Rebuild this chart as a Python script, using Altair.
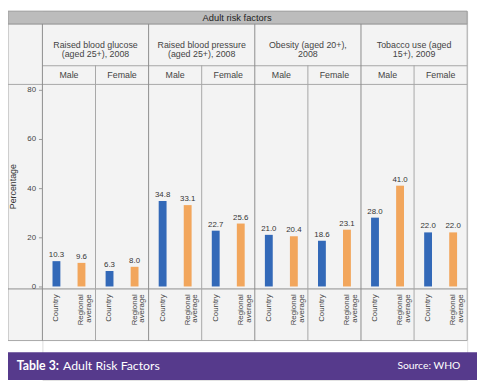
import altair as alt
import pandas as pd

# ---- data ----
groups = [
    "Raised blood glucose\n(aged 25+), 2008",
    "Raised blood pressure\n(aged 25+), 2008",
    "Obesity (aged 20+),\n2008",
    "Tobacco use (aged\n15+), 2009",
]
sexes = ["Male", "Female"]
categories = ["Country", "Regional\naverage"]
# order: group -> sex -> (Country, Regional average)
values = [10.3, 9.6, 6.3, 8.0,
          34.8, 33.1, 22.7, 25.6,
          21.0, 20.4, 18.6, 23.1,
          28.0, 41.0, 22.0, 22.0]
y_ticks = [0, 20, 40, 60, 80]
bar_colors = ["#3369b8", "#f2a65c"]

rows = []
panels = []
i = 0
for gi, g in enumerate(groups):
    for s in sexes:
        p = f"{gi}|{s}"
        panels.append(p)
        for c in categories:
            rows.append({"group": g, "sex": s, "panel": p, "category": c,
                         "value": values[i], "label": f"{values[i]:.1f}"})
            i += 1
df = pd.DataFrame(rows)
one = pd.DataFrame({"k": [0]})

FONT = "Liberation Sans"
LINE = "#a6a6a6"

xs = alt.Scale(domain=panels, paddingInner=0, paddingOuter=0)
xo = alt.Scale(domain=categories, paddingInner=0, paddingOuter=0.06)
ys = alt.Scale(domain=[-38, 112], nice=False, zero=False)

base = alt.Chart(df)

# table background and frame
bg = alt.Chart(one).mark_rect(fill="#f3f3f3", stroke=LINE, strokeWidth=1).encode(
    x=alt.value(-35), x2=alt.value(432), y=alt.value(13), y2=alt.value(335))
titlebar = alt.Chart(one).mark_rect(fill="#bcbcbc", stroke="#9a9a9a").encode(
    x=alt.value(-35), x2=alt.value(432), y=alt.value(0), y2=alt.value(13))
title_txt = alt.Chart(one).mark_text(font=FONT, fontSize=9.5, color="#222",
                                     baseline="middle").encode(
    x=alt.value(198), y=alt.value(6.5), text=alt.value("Adult risk factors"))

hline_sub = alt.Chart(one).mark_rule(color=LINE).encode(
    x=alt.value(0), x2=alt.value(432), y=alt.value(55.5))
hline_plot = alt.Chart(one).mark_rule(color=LINE).encode(
    x=alt.value(-35), x2=alt.value(432), y=alt.value(74.5))
hline_axis = alt.Chart(one).mark_rule(color="#8c8c8c").encode(
    x=alt.value(-35), x2=alt.value(432), y=alt.value(282.5))

group_div = base.transform_filter(
    (alt.datum.sex == "Male") & (alt.datum.category == "Country")
).mark_rule(color="#8c8c8c").encode(
    x=alt.X("panel:N", scale=xs, bandPosition=0, axis=None),
    y=alt.value(13), y2=alt.value(335))
sub_div = base.transform_filter(
    (alt.datum.sex == "Female") & (alt.datum.category == "Country")
).mark_rule(color=LINE).encode(
    x=alt.X("panel:N", scale=xs, bandPosition=0, axis=None),
    y=alt.value(55), y2=alt.value(335))

group_txt = base.transform_filter(
    (alt.datum.sex == "Male") & (alt.datum.category == "Country")
).mark_text(font=FONT, fontSize=9, color="#444", lineBreak="\n", lineHeight=10,
            baseline="middle").encode(
    x=alt.X("panel:N", scale=xs, bandPosition=1, axis=None),
    y=alt.value(34), text="group:N")
sex_txt = base.transform_filter(alt.datum.category == "Country").mark_text(
    font=FONT, fontSize=9, color="#444", baseline="middle").encode(
    x=alt.X("panel:N", scale=xs, axis=None),
    y=alt.value(65), text="sex:N")

bars = base.mark_bar(size=8).encode(
    x=alt.X("panel:N", scale=xs, axis=None),
    xOffset=alt.XOffset("category:N", scale=xo),
    y=alt.Y("value:Q", scale=ys,
            axis=alt.Axis(values=y_ticks, domain=False, grid=False, tickSize=4,
                          tickColor="#999", labelFontSize=8, labelColor="#444",
                          labelPadding=3, labelFont=FONT, zindex=2,
                          title="Percentage", titleFont=FONT, titleFontSize=9,
                          titleFontWeight="normal", titleColor="#333",
                          titleX=-25, titleY=178)),
    y2=alt.datum(0),
    color=alt.Color("category:N", scale=alt.Scale(domain=categories, range=bar_colors),
                    legend=None))

vals = base.mark_text(font=FONT, fontSize=8, color="#333", baseline="bottom", dy=-2).encode(
    x=alt.X("panel:N", scale=xs, axis=None),
    xOffset=alt.XOffset("category:N", scale=xo),
    y=alt.Y("value:Q", scale=ys),
    text="label:N")

cat_txt = base.mark_text(font=FONT, fontSize=8, color="#444", angle=270, align="right",
                         baseline="middle", lineBreak="\n", lineHeight=8).encode(
    x=alt.X("panel:N", scale=xs, axis=None),
    xOffset=alt.XOffset("category:N", scale=xo),
    y=alt.value(288), text="category:N")

# footer band
footer = alt.Chart(one).mark_rect(fill="#563a8c").encode(
    x=alt.value(-36), x2=alt.value(442), y=alt.value(347), y2=alt.value(375))
foot_a = alt.Chart(one).mark_text(font="Lato", fontSize=12.5, fontWeight="bold",
                                  color="white", align="left", baseline="middle").encode(
    x=alt.value(-26), y=alt.value(361), text=alt.value("Table 3:"))
foot_b = alt.Chart(one).mark_text(font="Lato", fontSize=12.5, color="white",
                                  align="left", baseline="middle").encode(
    x=alt.value(21), y=alt.value(361), text=alt.value("Adult Risk Factors"))
foot_c = alt.Chart(one).mark_text(font="Lato", fontSize=10.5, color="white",
                                  align="right", baseline="middle").encode(
    x=alt.value(425), y=alt.value(361), text=alt.value("Source: WHO"))

chart = alt.layer(
    bg, titlebar, title_txt, hline_sub, hline_plot, hline_axis,
    group_div, sub_div, group_txt, sex_txt, bars, vals, cat_txt,
    footer, foot_a, foot_b, foot_c
).properties(
    width=432, height=375,
    autosize=alt.AutoSizeParams(type="none"),
    padding={"left": 35, "top": 0, "right": 10, "bottom": 3},
).configure_view(stroke=None).configure(background="white")

chart.save("out.html", embed_options={"renderer": "svg", "actions": False})
